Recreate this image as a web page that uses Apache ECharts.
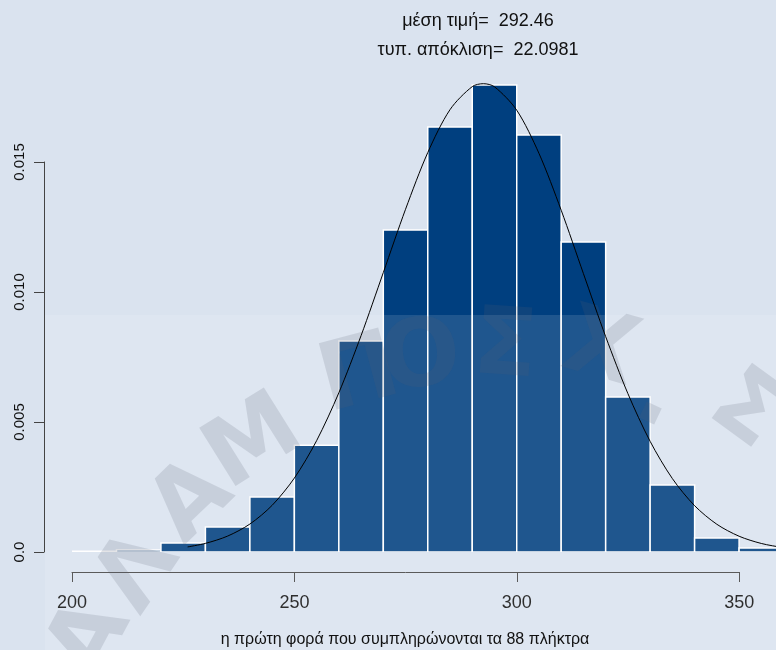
<!DOCTYPE html>
<html>
<head>
<meta charset="utf-8">
<script src="https://cdn.jsdelivr.net/npm/echarts@6/dist/echarts.min.js"></script>
<style>
  html, body { margin: 0; padding: 0; background: #dae3ef; }
  #chart { width: 776px; height: 650px; }
</style>
</head>
<body>
<div id="chart"></div>
<script>
// histogram bins (left edges, width 10) and densities
const binStarts = [200, 210, 220, 230, 240, 250, 260, 270, 280, 290, 300, 310, 320, 330, 340, 350];
const binWidth = 10;
const densities = [0.00003, 0.00008, 0.00035, 0.00096, 0.00212, 0.00412, 0.00813, 0.01241,
  0.01638, 0.01800, 0.01608, 0.01195, 0.00598, 0.00258, 0.00054, 0.00015];

// fitted normal curve, sampled points as seen in the picture
const curveX = [226, 230, 235, 240, 245, 250, 255, 260, 265, 270, 275, 280, 285, 290, 292.5,
  295, 300, 305, 310, 315, 320, 325, 330, 335, 340, 345, 350, 355, 360, 362];
const curveY = [0.000196, 0.000332, 0.000614, 0.001078, 0.001799, 0.002850, 0.004291, 0.006137,
  0.008341, 0.010771, 0.013213, 0.015399, 0.017053, 0.017941, 0.018053, 0.017934, 0.017032,
  0.015368, 0.013175, 0.010731, 0.008304, 0.006105, 0.004265, 0.002830, 0.001785, 0.001069,
  0.000608, 0.000329, 0.000169, 0.000140];

const xTicks = [200, 250, 300, 350];
const yTicks = [0, 0.005, 0.010, 0.015];
const yTickLabels = ['0.0', '0.005', '0.010', '0.015'];

const titleLines = ['μέση τιμή=  292.46', 'τυπ. απόκλιση=  22.0981'];
const xTitle = 'η πρώτη φορά που συμπληρώνονται τα 88 πλήκτρα';

// watermark letters on an arc: [char, x, y, degrees clockwise]
const marks = [
  ['Α', 92, 640, -62], ['Λ', 140, 573, -56], ['Α', 193, 503, -44], ['Μ', 255, 445, -32],
  ['Π', 360, 378, -15], ['Ο', 421, 361, -6], ['Σ', 505, 350, 4], ['Χ', 600, 352, 16],
  ['.', 657, 399, 25], ['Σ', 745, 412, 36]
];

const chart = echarts.init(document.getElementById('chart'));

const font = '"Liberation Sans", Arial, sans-serif';
const barData = binStarts.map((b, i) => [b, b + binWidth, densities[i]]);
const curveData = curveX.map((x, i) => [x, curveY[i]]);

const wmLetters = marks.map(m => ({
  type: 'text',
  x: m[1],
  y: m[2],
  rotation: -m[3] * Math.PI / 180,
  z: 100,
  silent: true,
  style: {
    text: m[0],
    x: 0,
    y: 0,
    align: 'center',
    verticalAlign: 'middle',
    fontFamily: '"DejaVu Sans", sans-serif',
    fontWeight: 'bold',
    fontSize: 94,
    fill: 'rgba(90,95,110,0.17)'
  }
}));

const option = {
  backgroundColor: '#dae3ef',
  animation: false,
  grid: [
    { left: 72, right: 0, top: 33.2, bottom: 98 },
    { left: 72, width: 667.2, top: 571, height: 1 },
    { left: 44, width: 1, top: 162, height: 390 }
  ],
  xAxis: [
    { type: 'value', gridIndex: 0, min: 200, max: 358.3, show: false },
    {
      type: 'value', gridIndex: 1, min: 200, max: 350, interval: 50,
      axisLine: { show: true, lineStyle: { color: '#444', width: 1 } },
      axisTick: { show: true, length: 10, lineStyle: { color: '#444' } },
      axisLabel: { margin: 22, fontSize: 18, color: '#111', fontFamily: font,
        formatter: v => xTicks.includes(v) ? String(v) : '' },
      splitLine: { show: false }
    },
    { type: 'value', gridIndex: 2, show: false }
  ],
  yAxis: [
    { type: 'value', gridIndex: 0, min: 0, max: 0.02, show: false },
    { type: 'value', gridIndex: 1, show: false },
    {
      type: 'value', gridIndex: 2, min: 0, max: 0.015, interval: 0.005,
      axisLine: { show: true, lineStyle: { color: '#444', width: 1 } },
      axisTick: { show: true, length: 10, lineStyle: { color: '#444' } },
      axisLabel: { margin: 17, fontSize: 15, color: '#111', fontFamily: font, rotate: 90,
        formatter: v => {
          const i = yTicks.findIndex(t => Math.abs(t - v) < 1e-9);
          return i >= 0 ? yTickLabels[i] : '';
        } },
      splitLine: { show: false }
    }
  ],
  graphic: [
    { type: 'rect', z: 99, silent: true, shape: { x: 45, y: 315, width: 731, height: 335 },
      style: { fill: 'rgba(255,255,255,0.12)' } },
    ...wmLetters,
    { type: 'text', x: 478, y: 21, z: 101, style: { text: titleLines[0], align: 'center', verticalAlign: 'middle',
      fontSize: 18, fontFamily: font, fill: '#111' } },
    { type: 'text', x: 478, y: 50, z: 101, style: { text: titleLines[1], align: 'center', verticalAlign: 'middle',
      fontSize: 18, fontFamily: font, fill: '#111' } },
    { type: 'text', x: 405, y: 640, z: 101, style: { text: xTitle, align: 'center', verticalAlign: 'middle',
      fontSize: 16, fontFamily: font, fill: '#111' } }
  ],
  series: [
    {
      type: 'custom',
      xAxisIndex: 0,
      yAxisIndex: 0,
      clip: true,
      data: barData,
      renderItem: (params, api) => {
        const p0 = api.coord([api.value(0), api.value(2)]);
        const p1 = api.coord([api.value(1), 0]);
        return {
          type: 'rect',
          shape: { x: p0[0], y: p0[1], width: p1[0] - p0[0], height: p1[1] - p0[1] },
          style: { fill: '#003f7f', stroke: '#ffffff', lineWidth: 1.5 }
        };
      }
    },
    {
      type: 'line',
      xAxisIndex: 0,
      yAxisIndex: 0,
      data: curveData,
      smooth: 0.3,
      symbol: 'none',
      clip: true,
      z: 120,
      lineStyle: { color: '#000', width: 1 }
    }
  ]
};

chart.setOption(option);
</script>
</body>
</html>
